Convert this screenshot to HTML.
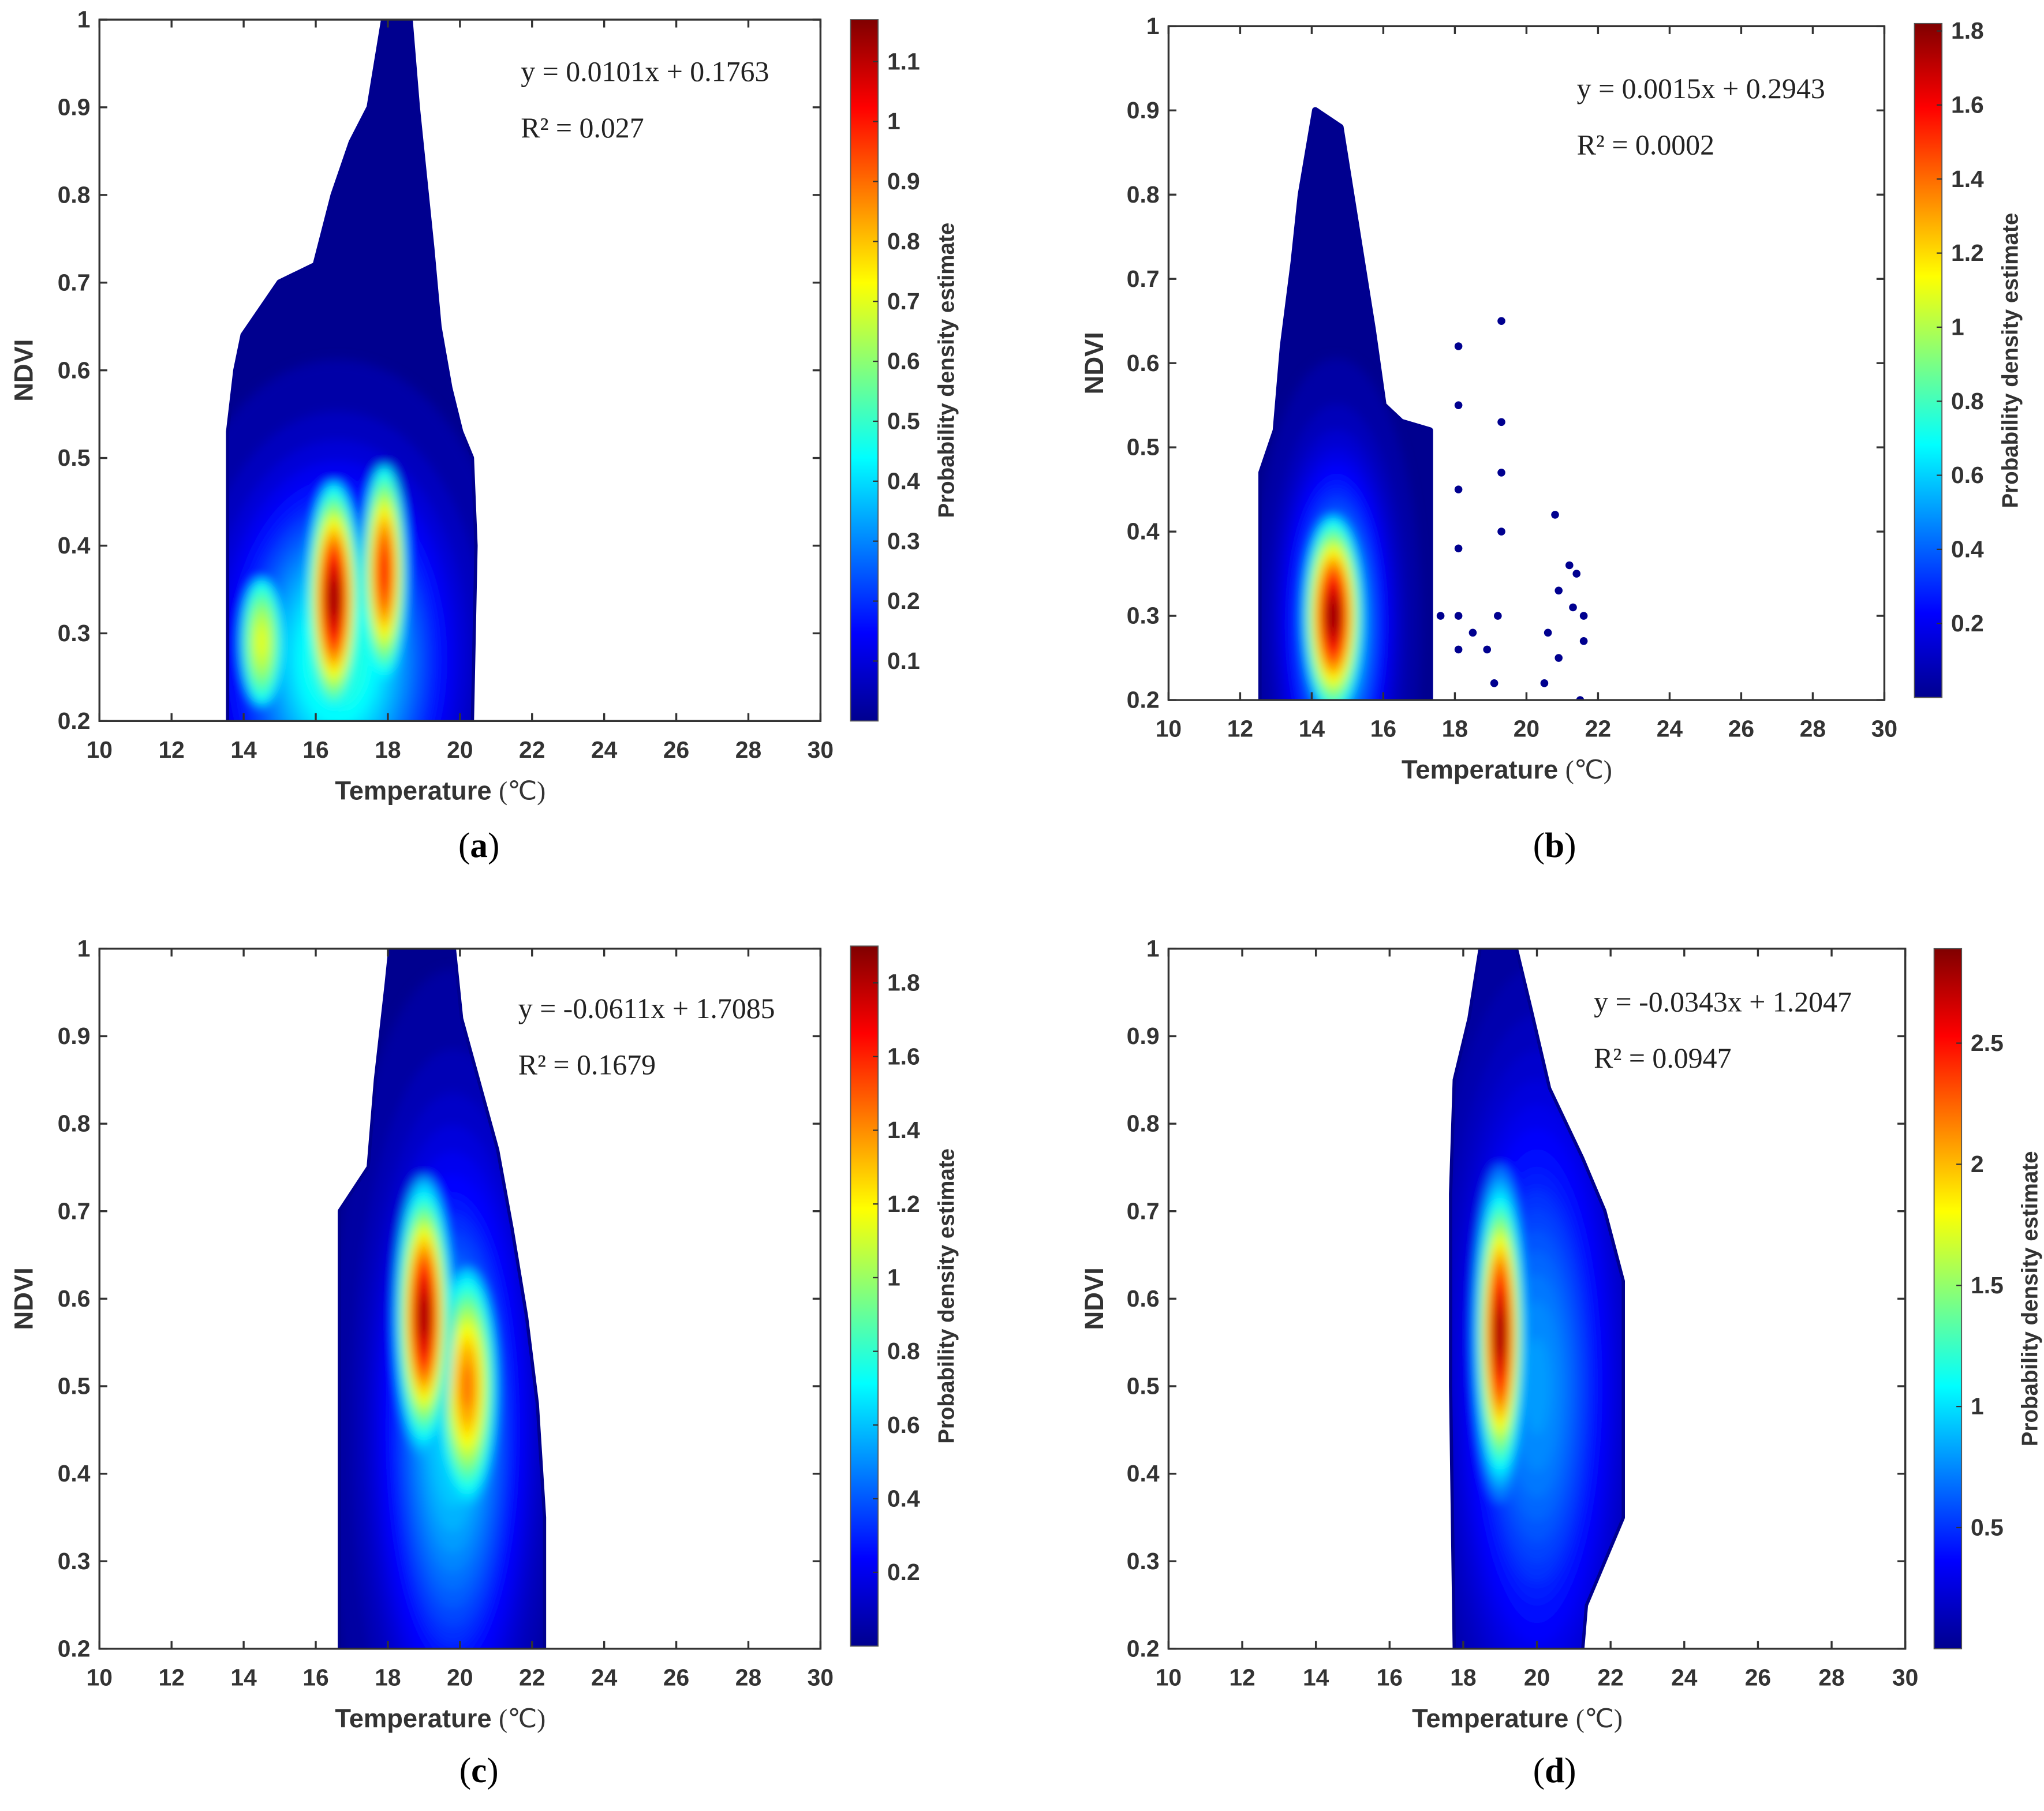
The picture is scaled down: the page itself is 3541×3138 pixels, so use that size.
<!DOCTYPE html>
<html><head><meta charset="utf-8"><style>
html,body{margin:0;padding:0;background:#fff;}
svg{display:block;}
.tk{font-family:"Liberation Sans",sans-serif;font-weight:bold;font-size:18px;fill:#333;}
.ax{font-family:"Liberation Sans",sans-serif;font-weight:bold;font-size:20px;fill:#333;}
.eq{font-family:"Liberation Serif",serif;font-size:22px;fill:#222;}
.pl{font-family:"Liberation Serif",serif;font-size:27px;fill:#000;}
</style></head><body>
<svg id="fig" width="3541" height="3138" viewBox="0 0 1562 1384" preserveAspectRatio="none" xmlns="http://www.w3.org/2000/svg">
<defs>
<linearGradient id="jet" x1="0" y1="1" x2="0" y2="0">
<stop offset="0" stop-color="#00008f"/><stop offset="0.125" stop-color="#0000ff"/><stop offset="0.375" stop-color="#00ffff"/><stop offset="0.625" stop-color="#ffff00"/><stop offset="0.875" stop-color="#ff0000"/><stop offset="1" stop-color="#800000"/>
</linearGradient>
<filter id="bl" x="-50%" y="-50%" width="200%" height="200%"><feGaussianBlur stdDeviation="4"/></filter>
</defs>
</svg>
<script>
const NS="http://www.w3.org/2000/svg";
const xTicks=[10,12,14,16,18,20,22,24,26,28,30];
const yTicks=[0.2,0.3,0.4,0.5,0.6,0.7,0.8,0.9,1];
const yTickLabels=["0.2","0.3","0.4","0.5","0.6","0.7","0.8","0.9","1"];
const panelLabels=["a","b","c","d"];
const equations=["y = 0.0101x + 0.1763","y = 0.0015x + 0.2943","y = -0.0611x + 1.7085","y = -0.0343x + 1.2047"];
const r2Labels=["R² = 0.027","R² = 0.0002","R² = 0.1679","R² = 0.0947"];
// envelopes [temp, ndvi]
const envA=[[13.6,0.2],[13.6,0.53],[13.8,0.6],[14,0.64],[14.5,0.67],[15,0.7],[15.5,0.71],[16,0.72],[16.5,0.8],[17,0.86],[17.5,0.9],[17.9,1.0],[18.6,1.0],[18.8,0.9],[19,0.82],[19.2,0.74],[19.4,0.65],[19.7,0.58],[20,0.53],[20.3,0.5],[20.4,0.4],[20.3,0.2]];
const envB=[[12.6,0.2],[12.6,0.47],[13,0.52],[13.2,0.62],[13.5,0.72],[13.7,0.8],[14.1,0.9],[14.8,0.88],[15.1,0.8],[15.4,0.72],[15.7,0.64],[16,0.55],[16.5,0.53],[17.3,0.52],[17.3,0.2]];
const envC=[[16.7,0.2],[16.7,0.7],[17.5,0.75],[17.7,0.85],[18,0.96],[18.1,1.0],[19.8,1.0],[20,0.92],[20.4,0.86],[21,0.77],[21.4,0.68],[21.8,0.58],[22.1,0.48],[22.3,0.35],[22.3,0.2]];
const envD=[[17.8,0.2],[17.7,0.5],[17.7,0.72],[17.8,0.85],[18.2,0.92],[18.5,1.0],[19.4,1.0],[19.8,0.93],[20.3,0.84],[21.2,0.76],[21.8,0.7],[22.3,0.62],[22.3,0.35],[21.8,0.3],[21.3,0.25],[21.2,0.2]];
const envelopes=[envA,envB,envC,envD];
// blobs [temp, ndvi, sdTemp, sdNdvi, peak]; first blob of each panel is the broad base
const blobsA=[[16.6,0.27,1.9,0.13,0.5],[14.5,0.29,0.55,0.07,0.7],[16.5,0.34,0.5,0.09,1.15],[17.9,0.37,0.45,0.09,1.0]];
const blobsB=[[14.7,0.29,0.9,0.12,0.7],[14.6,0.3,0.55,0.08,1.8]];
const blobsC=[[19.8,0.45,1.3,0.2,0.65],[20.2,0.5,0.6,0.1,1.45],[19,0.58,0.5,0.1,1.85]];
const blobsD=[[20,0.5,1.4,0.22,0.8],[19,0.56,0.42,0.11,2.85]];
const blobs=[blobsA,blobsB,blobsC,blobsD];
const outliersB=[[18.1,0.62],[18.1,0.55],[18.1,0.45],[18.1,0.38],[18.1,0.3],[18.1,0.26],[17.6,0.3],[18.5,0.28],[18.9,0.26],[19.3,0.65],[19.3,0.53],[19.3,0.47],[19.3,0.4],[19.1,0.22],[19.2,0.3],[20.5,0.22],[20.6,0.28],[20.8,0.42],[20.9,0.33],[21.2,0.36],[21.3,0.31],[21.4,0.35],[21.5,0.2],[21.6,0.3],[21.6,0.27],[20.9,0.25]];
const cbTicksA=[0.1,0.2,0.3,0.4,0.5,0.6,0.7,0.8,0.9,1,1.1];
const cbTicksB=[0.2,0.4,0.6,0.8,1,1.2,1.4,1.6,1.8];
const cbTicksC=[0.2,0.4,0.6,0.8,1,1.2,1.4,1.6,1.8];
const cbTicksD=[0.5,1,1.5,2,2.5];
const cbTicks=[cbTicksA,cbTicksB,cbTicksC,cbTicksD];
const cbMax=[1.17,1.82,1.9,2.89];
const layout=[
 {x0:76,x1:627,y0:15,y1:551,cb:650,cby0:15,cby1:551,lx:366,ly:655,eqx:398,eqy:62,yl:25},
 {x0:893,x1:1440,y0:20,y1:535,cb:1463,cby0:18,cby1:533,lx:1188,ly:655,eqx:1205,eqy:75,yl:843},
 {x0:76,x1:627,y0:725,y1:1260,cb:650,cby0:723,cby1:1258,lx:366,ly:1362,eqx:396,eqy:778,yl:25},
 {x0:893,x1:1456,y0:725,y1:1260,cb:1478,cby0:725,cby1:1260,lx:1188,ly:1362,eqx:1218,eqy:773,yl:843}];
const svg=document.getElementById('fig');
function mk(t,a,p){const e=document.createElementNS(NS,t);for(const k in a)e.setAttribute(k,a[k]);(p||svg).appendChild(e);return e;}
function jet(f){const s=[[0,[0,0,143]],[0.125,[0,0,255]],[0.375,[0,255,255]],[0.625,[255,255,0]],[0.875,[255,0,0]],[1,[128,0,0]]];f=Math.max(0,Math.min(1,f));for(let i=1;i<s.length;i++){if(f<=s[i][0]){const t=(f-s[i-1][0])/(s[i][0]-s[i-1][0]);const c=s[i-1][1].map((v,j)=>Math.round(v+(s[i][1][j]-v)*t));return `rgb(${c})`;}}return 'rgb(128,0,0)';}
layout.forEach((L,p)=>{
 const sx=v=>L.x0+(v-10)/20*(L.x1-L.x0);
 const sy=v=>L.y1-(v-0.2)/0.8*(L.y1-L.y0);
 const g=mk('g',{});
 
 
 const pts=envelopes[p].map(q=>sx(q[0])+','+sy(q[1])).join(' ');
 const cid='clip'+p, eid='envclip'+p;
 const cp=mk('clipPath',{id:cid},g);
 mk('rect',{x:L.x0,y:L.y0,width:L.x1-L.x0,height:L.y1-L.y0},cp);
 const ep=mk('clipPath',{id:eid},g);
 mk('polygon',{points:pts},ep);
 const dg=mk('g',{'clip-path':`url(#${cid})`},g);
 
 
 const env=mk('polygon',{points:pts,fill:'#00008f',stroke:'#00008f','stroke-width':5,'stroke-linejoin':'round'},dg);
 
 
 const wrap=mk('g',{'clip-path':`url(#${eid})`},dg);
 const inner=mk('g',{filter:'url(#bl)'},wrap);
 const floorVal=blobs[p][0][4]*0.85;
 blobs[p].forEach((b,bi)=>{
  const levels=16;
  for(let k=1;k<=levels;k++){
   const val=b[4]*k/levels;
   if(bi>0 && val<floorVal) continue;
   const r=Math.sqrt(2*Math.log(levels/(k-0.5)));
   const rx=Math.max(2,b[2]*r*(L.x1-L.x0)/20), ry=Math.max(2,b[3]*r*(L.y1-L.y0)/0.8);
   const e=mk('ellipse',{cx:sx(b[0]),cy:sy(b[1]),rx:rx,ry:ry,fill:jet(val/cbMax[p])},inner);
   
   
  }
 });
 if(p==1)outliersB.forEach(o=>{const c=mk('circle',{cx:sx(o[0]),cy:sy(o[1]),r:3,fill:'#00008f'},dg);
  
  });
 const fr=mk('rect',{x:L.x0,y:L.y0,width:L.x1-L.x0,height:L.y1-L.y0,fill:'none',stroke:'#333','stroke-width':1.5},g);
 
 
 xTicks.forEach(t=>{const x=sx(t);
  mk('line',{x1:x,x2:x,y1:L.y1,y2:L.y1-6,stroke:'#333','stroke-width':1.5},g);
  mk('line',{x1:x,x2:x,y1:L.y0,y2:L.y0+6,stroke:'#333','stroke-width':1.5},g);
  const tx=mk('text',{x:x,y:L.y1+28,'text-anchor':'middle',class:'tk'},g);tx.textContent=t;
  
  });
 yTicks.forEach((t,i)=>{const y=sy(t);
  mk('line',{x1:L.x0,x2:L.x0+6,y1:y,y2:y,stroke:'#333','stroke-width':1.5},g);
  mk('line',{x1:L.x1,x2:L.x1-6,y1:y,y2:y,stroke:'#333','stroke-width':1.5},g);
  const tx=mk('text',{x:L.x0-7,y:y+6,'text-anchor':'end',class:'tk'},g);tx.textContent=yTickLabels[i];
  
  });
 const xt=mk('text',{x:(L.x0+L.x1)/2-15,y:L.y1+60,'text-anchor':'middle',class:'ax'},g);xt.innerHTML='Temperature <tspan style="font-weight:normal;font-family:Liberation Serif,serif">(℃)</tspan>';
 
 
 const yt=mk('text',{x:0,y:0,transform:`translate(${L.yl},${(L.y0+L.y1)/2}) rotate(-90)`,'text-anchor':'middle',class:'ax'},g);yt.textContent='NDVI';
 
 
 const e1=mk('text',{x:L.eqx,y:L.eqy,class:'eq'},g);e1.textContent=equations[p];
 
 
 const e2=mk('text',{x:L.eqx,y:L.eqy+43,class:'eq'},g);e2.textContent=r2Labels[p];
 
 
 const cb=mk('rect',{x:L.cb,y:L.cby0,width:21,height:L.cby1-L.cby0,fill:'url(#jet)',stroke:'#555','stroke-width':0.8},g);
 
 
 const cy=v=>L.cby1-v/cbMax[p]*(L.cby1-L.cby0);
 cbTicks[p].forEach(t=>{const y=cy(t);
  mk('line',{x1:L.cb+21,x2:L.cb+17,y1:y,y2:y,stroke:'#333','stroke-width':1},g);
  const tx=mk('text',{x:L.cb+28,y:y+6,class:'tk'},g);tx.textContent=t;
  
  });
 const ct=mk('text',{x:0,y:0,transform:`translate(${L.cb+79},${(L.cby0+L.cby1)/2}) rotate(-90)`,'text-anchor':'middle',class:'ax',style:'font-size:17px'},g);ct.textContent='Probability density estimate';
 
 
 const pl=mk('text',{x:L.lx,y:L.ly,'text-anchor':'middle',class:'pl'},g);pl.innerHTML=`(<tspan font-weight="bold">${panelLabels[p]}</tspan>)`;
 
 
});
</script>
</body></html>
